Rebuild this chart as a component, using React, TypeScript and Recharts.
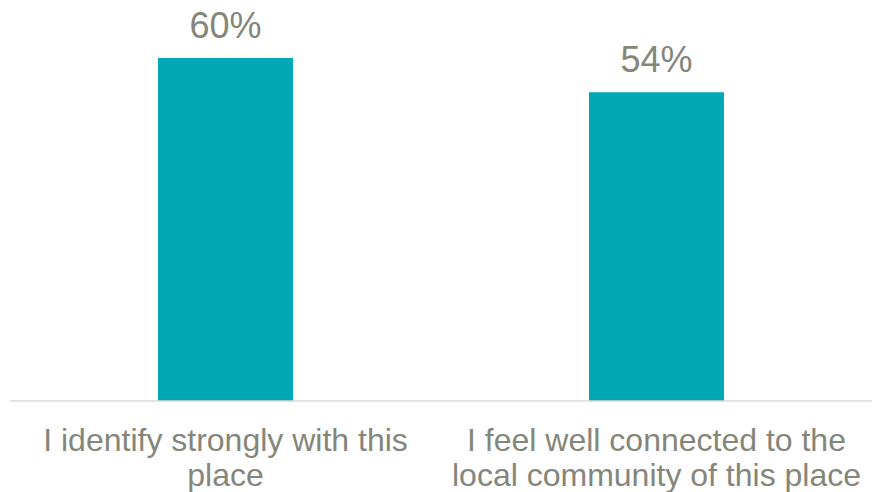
import { BarChart, Bar, XAxis, YAxis, LabelList } from 'recharts';

const categories = [
  'I identify strongly with this\nplace',
  'I feel well connected to the\nlocal community of this place',
];
const values = [60, 54];

const data = categories.map((name, i) => ({ name, value: values[i] }));

const textColor = '#85867a';

const CategoryTick = (props: any) => {
  const { x, y, payload } = props;
  const lines = String(payload.value).split('\n');
  return (
    <text x={x} y={y} textAnchor="middle" fill={textColor} fontSize={32} fontFamily="'Liberation Sans', Arial, sans-serif">
      {lines.map((line, i) => (
        <tspan key={i} x={x} y={y + 50 + i * 35}>
          {line}
        </tspan>
      ))}
    </text>
  );
};

const App = () => {
  return (
    <div style={{ position: 'absolute', left: 0, top: 0, width: 872, height: 492, background: '#fff' }}>
      <BarChart
        width={872}
        height={492}
        data={data}
        margin={{ top: 58, right: 0, bottom: 0, left: 10 }}
      >
        <XAxis
          dataKey="name"
          height={91}
          tickLine={false}
          tickSize={0}
          tickMargin={0}
          axisLine={{ stroke: '#d9d9d9', strokeWidth: 1.5 }}
          tick={<CategoryTick />}
          interval={0}
        />
        <YAxis hide domain={[0, 60]} />
        <Bar dataKey="value" fill="#00a9b4" barSize={135} isAnimationActive={false}>
          <LabelList
            dataKey="value"
            position="top"
            offset={20}
            formatter={(v: any) => `${v}%`}
            fill={textColor}
            fontSize={36}
            fontFamily="'Liberation Sans', Arial, sans-serif"
          />
        </Bar>
      </BarChart>
    </div>
  );
};

export default App;
